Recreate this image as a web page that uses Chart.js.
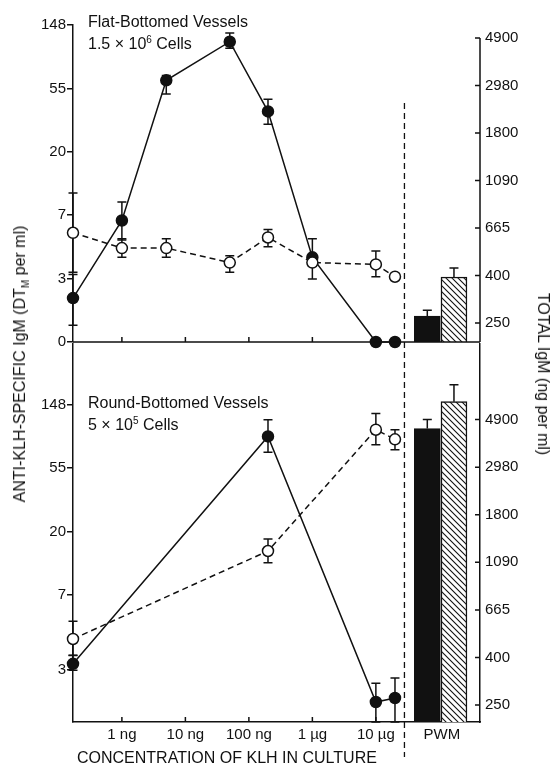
<!DOCTYPE html>
<html>
<head>
<meta charset="utf-8">
<script src="https://cdn.jsdelivr.net/npm/chart.js@4.4.1/dist/chart.umd.min.js"></script>
<style>
  body { margin: 0; background: #fff; }
  #wrap { position: relative; width: 551px; height: 769px; font-family: "Liberation Sans", Arial, sans-serif; color: #111; }
  canvas { position: absolute; left: 0; }
  .t { position: absolute; font-size: 16px; line-height: 1; white-space: nowrap; }
  .t sup, .t sub { font-size: 10px; line-height: 0; }
  .rot { transform: translate(-50%, -50%) rotate(-90deg); }
  .rotr { transform: translate(-50%, -50%) rotate(90deg); }
</style>
</head>
<body>
<div id="wrap">
  <canvas id="flat" width="551" height="360" style="top:0"></canvas>
  <canvas id="round" width="551" height="439" style="top:330px"></canvas>
  <div class="t" style="left:88px;top:14px">Flat-Bottomed Vessels</div>
  <div class="t" style="left:88px;top:36px">1.5 × 10<sup>6</sup> Cells</div>
  <div class="t" style="left:88px;top:395px">Round-Bottomed Vessels</div>
  <div class="t" style="left:88px;top:417px">5 × 10<sup>5</sup> Cells</div>
  <div class="t" style="left:77px;top:750px">CONCENTRATION OF KLH IN CULTURE</div>
  <div class="t rot" style="left:20px;top:364px">ANTI-KLH-SPECIFIC IgM (DT<sub>M</sub> per ml)</div>
  <div class="t rotr" style="left:543px;top:374px">TOTAL IgM (ng per ml)</div>
</div>
<script>
// KLH dose in ng per ml (0 = no antigen, drawn on the axis)
const concFlat = [0, 1, 5, 50, 200, 1000, 10000, 20000];
const concRound = [0, 200, 10000, 20000];

// anti-KLH IgM, DT_M per ml
const flatFilled = [2.0, 6.8, 62, 114, 38, 3.8, 0, 0];
const flatFilledLo = [1.3, 5.0, 50, 103, 31, 3.3, null, null];
const flatFilledHi = [2.9, 9.1, 67, 131, 46, 5.1, null, null];
const flatOpen = [5.6, 4.4, 4.4, 3.5, 5.2, 3.5, 3.4, 2.8];
const flatOpenLo = [3.0, 3.8, 3.8, 3.0, 4.5, 2.7, 2.8, null];
const flatOpenHi = [10.5, 5.1, 5.1, 3.9, 5.9, 3.8, 4.2, null];

const roundFilled = [2.5, 90, 1.37, 1.46];
const roundFilledLo = [2.26, 70, 1, 1];
const roundFilledHi = [2.86, 117, 1.84, 2.0];
const roundOpen = [3.7, 14.8, 100, 86];
const roundOpenLo = [2.85, 12.3, 79, 73];
const roundOpenHi = [4.9, 17.9, 129, 100];

// total IgM with PWM, ng per ml (black, hatched)
const pwmFlat = [263, 397];
const pwmFlatHi = [280, 437];
const pwmRound = [4470, 5930];
const pwmRoundHi = [4915, 7080];

// axes
const xTickPos = [0, 1, 2, 3, 4, 5.04];
const xTickLabels = ["1 ng", "10 ng", "100 ng", "1 µg", "10 µg", "PWM"];
const pwmSlots = [4.81, 5.23];
const dividerAt = 4.45;
const leftTickPosFlat = [0, 1, 2, 3, 4, 5];
const leftTickLabelsFlat = ["0", "3", "7", "20", "55", "148"];
const leftTickPosRound = [0.82, 2, 3, 4, 5];
const leftTickLabelsRound = ["3", "7", "20", "55", "148"];
const rightTickPos = [5.5, 6, 6.5, 7, 7.5, 8, 8.5];
const rightTickLabels = ["250", "400", "665", "1090", "1800", "2980", "4900"];

const ink = "#111";
const xMin = -0.77, xMax = 5.64;

Chart.defaults.font.family = '"Liberation Sans", Arial, sans-serif';
Chart.defaults.font.size = 15;
Chart.defaults.color = ink;

const toLeft = v => (v <= 1 ? 0 : Math.log(v));
const toRight = v => Math.log(v);
const xOf = c => (c === 0 ? xMin : Math.log10(c));

function hatch() {
  const c = document.createElement("canvas");
  c.width = 6; c.height = 6;
  const g = c.getContext("2d");
  g.fillStyle = "#fff";
  g.fillRect(0, 0, 6, 6);
  g.strokeStyle = ink;
  g.lineWidth = 1.1;
  g.beginPath();
  g.moveTo(0, 0); g.lineTo(6, 6);
  g.moveTo(-1, 5); g.lineTo(1, 7);
  g.moveTo(5, -1); g.lineTo(7, 1);
  g.stroke();
  return g.createPattern(c, "repeat");
}

function series(conc, vals, lo, hi, filled) {
  return {
    type: "line",
    data: conc.map((c, i) => ({ x: xOf(c), y: toLeft(vals[i]) })),
    yAxisID: "y",
    errLo: lo,
    errHi: hi,
    clip: false,
    borderColor: ink,
    borderWidth: 1.5,
    borderDash: filled ? [] : [6, 4],
    pointRadius: 5.5,
    pointBorderWidth: 1.5,
    pointBorderColor: ink,
    pointBackgroundColor: filled ? ink : "#fff",
    tension: 0,
  };
}

function bars(vals, hi, base) {
  return {
    type: "bar",
    data: pwmSlots.map((x, i) => ({ x: x, y: toRight(vals[i]) })),
    yAxisID: "y2",
    errHi: hi,
    backgroundColor: [ink, hatch()],
    borderColor: ink,
    borderWidth: 1.5,
    barThickness: 26,
    grouped: false,
    base: base,
  };
}

const decor = {
  id: "decor",
  beforeDatasetsDraw(chart) {
    const ctx = chart.ctx;
    ctx.save();
    ctx.strokeStyle = ink;
    ctx.lineWidth = 1.5;
    chart.data.datasets.forEach((ds, i) => {
      if (!ds.errHi) return;
      const ys = chart.scales[ds.yAxisID];
      const conv = ds.yAxisID === "y" ? toLeft : toRight;
      chart.getDatasetMeta(i).data.forEach((el, j) => {
        const hi = ds.errHi[j];
        if (hi == null) return;
        const lo = ds.errLo ? ds.errLo[j] : null;
        const y1 = ys.getPixelForValue(conv(hi));
        const y2 = lo == null ? el.y : ys.getPixelForValue(conv(lo));
        ctx.beginPath();
        ctx.moveTo(el.x, y1); ctx.lineTo(el.x, y2);
        ctx.moveTo(el.x - 4.5, y1); ctx.lineTo(el.x + 4.5, y1);
        if (lo != null) { ctx.moveTo(el.x - 4.5, y2); ctx.lineTo(el.x + 4.5, y2); }
        ctx.stroke();
      });
    });
    ctx.restore();
  },
  afterDraw(chart, args, opts) {
    const ctx = chart.ctx;
    const a = chart.chartArea;
    const xs = chart.scales.x, r = chart.scales.y2;
    ctx.save();
    ctx.strokeStyle = ink;
    ctx.lineWidth = 1.5;
    ctx.beginPath();
    if (opts.baseLine) { ctx.moveTo(a.left, a.bottom); ctx.lineTo(a.right, a.bottom); }
    if (opts.rightLine) {
      ctx.moveTo(a.right, r.getPixelForValue(rightTickPos[rightTickPos.length - 1]));
      ctx.lineTo(a.right, a.bottom);
    }
    xTickPos.slice(0, 5).forEach(v => {
      const px = xs.getPixelForValue(v);
      ctx.moveTo(px, a.bottom); ctx.lineTo(px, a.bottom - 5);
    });
    rightTickPos.forEach(v => {
      const py = r.getPixelForValue(v);
      ctx.moveTo(a.right, py); ctx.lineTo(a.right - 5, py);
    });
    ctx.stroke();
    const dx = xs.getPixelForValue(dividerAt);
    ctx.setLineDash([6, 4]);
    ctx.lineWidth = 1.3;
    ctx.beginPath();
    ctx.moveTo(dx, opts.divFrom); ctx.lineTo(dx, opts.divTo);
    ctx.stroke();
    ctx.restore();
  },
};

function leftAxis(max, pos, labels) {
  return {
    type: "linear", position: "left", min: 0, max: max,
    afterFit: s => { s.width = 73; },
    afterBuildTicks: s => { s.ticks = pos.map(v => ({ value: v })); },
    ticks: { autoSkip: false, padding: 1, callback: (v, i) => labels[i] },
    grid: { drawOnChartArea: false, drawTicks: true, tickLength: 6, color: ink, lineWidth: 1.5 },
    border: { color: ink, width: 1.5 },
  };
}

function rightAxis(min, max, border) {
  return {
    type: "linear", position: "right", min: min, max: max,
    afterFit: s => { s.width = 71; },
    afterBuildTicks: s => { s.ticks = rightTickPos.map(v => ({ value: v })); },
    ticks: { autoSkip: false, padding: 5, callback: (v, i) => rightTickLabels[i] },
    grid: { display: false, drawTicks: false },
    border: { display: border, color: ink, width: 1.5 },
  };
}

new Chart(document.getElementById("flat"), {
  data: {
    datasets: [
      series(concFlat, flatOpen, flatOpenLo, flatOpenHi, false),
      series(concFlat, flatFilled, flatFilledLo, flatFilledHi, true),
      bars(pwmFlat, pwmFlatHi, 5.30),
    ],
  },
  options: {
    responsive: false,
    animation: false,
    events: [],
    layout: { padding: { top: 25, bottom: 18, left: 0, right: 0 } },
    scales: {
      x: { type: "linear", display: false, offset: false, min: xMin, max: xMax },
      y: leftAxis(5, leftTickPosFlat, leftTickLabelsFlat),
      y2: rightAxis(5.30, 8.637, false),
    },
    plugins: {
      legend: { display: false },
      tooltip: { enabled: false },
      decor: { baseLine: true, rightLine: true, divFrom: 103, divTo: 342 },
    },
  },
  plugins: [decor],
});

new Chart(document.getElementById("round"), {
  data: {
    datasets: [
      series(concRound, roundOpen, roundOpenLo, roundOpenHi, false),
      series(concRound, roundFilled, roundFilledLo, roundFilledHi, true),
      bars(pwmRound, pwmRoundHi, 5.322),
    ],
  },
  options: {
    responsive: false,
    animation: false,
    events: [],
    layout: { padding: { top: 12, bottom: 0, left: 0, right: 0 } },
    scales: {
      x: {
        type: "linear", offset: false, min: xMin, max: xMax,
        afterFit: s => { s.height = 47; },
        afterBuildTicks: s => { s.ticks = xTickPos.map(v => ({ value: v })); },
        ticks: { autoSkip: false, maxRotation: 0, padding: 4, callback: (v, i) => xTickLabels[i] },
        grid: { display: false, drawTicks: false, offset: false },
        border: { color: ink, width: 1.5 },
      },
      y: leftAxis(5.956, leftTickPosRound, leftTickLabelsRound),
      y2: rightAxis(5.322, 9.294, true),
    },
    plugins: {
      legend: { display: false },
      tooltip: { enabled: false },
      decor: { baseLine: false, rightLine: false, divFrom: 12, divTo: 427 },
    },
  },
  plugins: [decor],
});
</script>
</body>
</html>
